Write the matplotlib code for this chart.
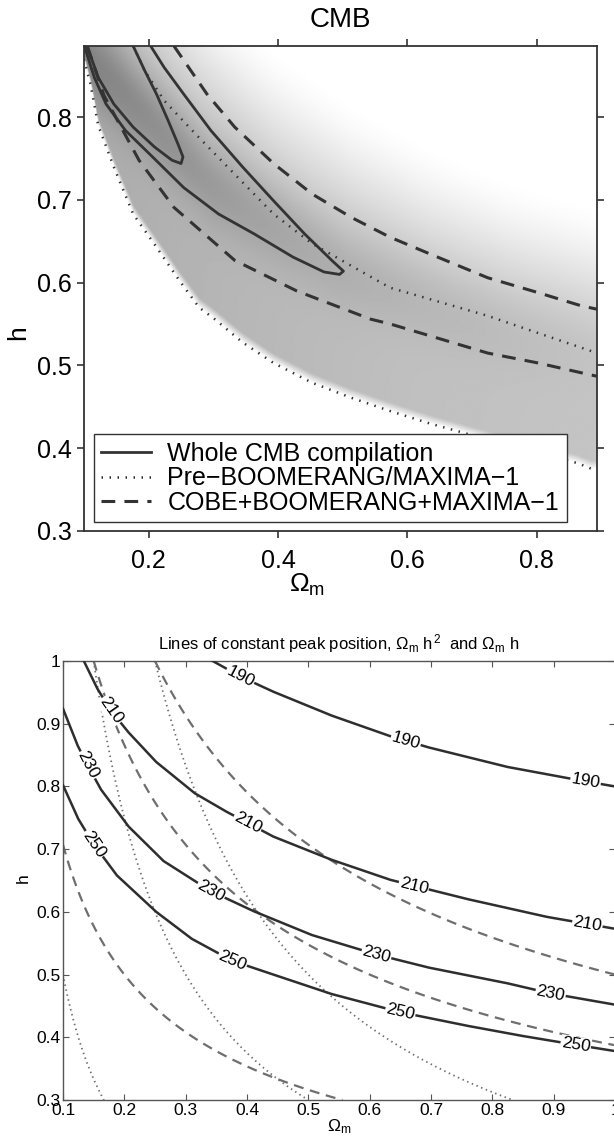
import numpy as np
import matplotlib.pyplot as plt

plt.rcParams['font.family'] = ['Liberation Sans', 'DejaVu Sans']
plt.rcParams['mathtext.fontset'] = 'custom'
plt.rcParams['mathtext.rm'] = 'Liberation Sans'
plt.rcParams['mathtext.it'] = 'Liberation Sans'

# ---------------- top panel data ----------------
# whole CMB compilation, outer and inner contour
outer_om = [0.203, 0.224, 0.254, 0.296, 0.345, 0.393, 0.441, 0.483, 0.501, 0.495,
            0.471, 0.423, 0.363, 0.308, 0.254, 0.206, 0.164, 0.134, 0.116, 0.105, 0.101]
outer_h = [0.886, 0.860, 0.828, 0.784, 0.740, 0.699, 0.659, 0.627, 0.614, 0.610,
           0.613, 0.631, 0.659, 0.683, 0.715, 0.752, 0.784, 0.816, 0.848, 0.875, 0.886]
inner_om = [0.176, 0.194, 0.212, 0.230, 0.245, 0.253, 0.250, 0.236, 0.209, 0.176, 0.146, 0.122, 0.107]
inner_h = [0.886, 0.856, 0.828, 0.796, 0.768, 0.752, 0.744, 0.748, 0.764, 0.788, 0.816, 0.848, 0.881]
# pre-BOOMERANG/MAXIMA-1
pre_up_om = [0.176, 0.194, 0.224, 0.272, 0.333, 0.393, 0.453, 0.573, 0.724, 0.814, 0.893]
pre_up_h = [0.886, 0.856, 0.820, 0.780, 0.731, 0.683, 0.647, 0.594, 0.560, 0.536, 0.515]
pre_lo_om = [0.100, 0.110, 0.122, 0.146, 0.176, 0.212, 0.248, 0.278, 0.302, 0.345,
             0.393, 0.453, 0.513, 0.573, 0.634, 0.750, 0.863, 0.885]
pre_lo_h = [0.870, 0.840, 0.790, 0.740, 0.683, 0.643, 0.602, 0.570, 0.556, 0.528,
            0.503, 0.479, 0.461, 0.445, 0.430, 0.405, 0.382, 0.375]
# COBE+BOOMERANG+MAXIMA-1
cbm_up_om = [0.239, 0.290, 0.333, 0.393, 0.453, 0.513, 0.573, 0.634, 0.724, 0.802, 0.869, 0.893]
cbm_up_h = [0.886, 0.828, 0.788, 0.744, 0.707, 0.679, 0.655, 0.635, 0.606, 0.588, 0.572, 0.568]
cbm_lo_om = [0.105, 0.131, 0.185, 0.239, 0.333, 0.429, 0.543, 0.574, 0.634, 0.724, 0.802, 0.881, 0.893]
cbm_lo_h = [0.886, 0.826, 0.748, 0.691, 0.627, 0.590, 0.556, 0.550, 0.536, 0.515, 0.503, 0.489, 0.487]
# grey likelihood band: upper fade edge and ridge
band_up_om = [0.10, 0.30, 0.393, 0.513, 0.634, 0.754, 0.893]
band_up_h = [1.10, 0.95, 0.886, 0.820, 0.768, 0.727, 0.695]
ridge_om = [0.10, 0.12, 0.20, 0.30, 0.40, 0.50, 0.70, 0.893]
ridge_h = [0.88, 0.86, 0.80, 0.72, 0.67, 0.62, 0.56, 0.52]

legend_labels = ['Whole CMB compilation', 'Pre\u2212BOOMERANG/MAXIMA\u22121',
                 'COBE+BOOMERANG+MAXIMA\u22121']

# ---------------- bottom panel data ----------------
peak_levels = [190, 210, 230, 250]
peak_om = [
    [0.344, 0.392, 0.443, 0.538, 0.634, 0.697, 0.825, 0.952, 1.0],
    [0.134, 0.156, 0.178, 0.207, 0.252, 0.315, 0.366, 0.443, 0.538, 0.634, 0.761, 0.889, 1.0],
    [0.100, 0.124, 0.140, 0.162, 0.207, 0.264, 0.341, 0.411, 0.506, 0.611, 0.697, 0.825, 0.895, 1.0],
    [0.100, 0.125, 0.150, 0.188, 0.252, 0.310, 0.376, 0.443, 0.538, 0.650, 0.761, 0.850, 0.936, 1.0],
]
peak_h = [
    [1.000, 0.974, 0.951, 0.913, 0.880, 0.862, 0.831, 0.808, 0.800],
    [1.000, 0.956, 0.921, 0.886, 0.839, 0.789, 0.760, 0.720, 0.683, 0.651, 0.620, 0.592, 0.573],
    [0.924, 0.865, 0.834, 0.795, 0.736, 0.681, 0.633, 0.601, 0.563, 0.532, 0.511, 0.486, 0.470, 0.452],
    [0.802, 0.748, 0.708, 0.658, 0.600, 0.557, 0.522, 0.500, 0.469, 0.440, 0.418, 0.402, 0.388, 0.378],
]
peak_label_om = [
    [0.389, 0.659, 0.952],
    [0.178, 0.401, 0.672, 0.955],
    [0.140, 0.341, 0.611, 0.895],
    [0.150, 0.376, 0.650, 0.936],
]
omh2_levels = [0.05, 0.15, 0.25]   # dashed
omh_levels = [0.05, 0.15, 0.25]    # dotted

fig = plt.figure(figsize=(6.14, 11.42), dpi=100)

# ================= top panel =================
ax1 = fig.add_axes([84 / 614, 1 - 531 / 1142, 513 / 614, 485 / 1142])
x0, x1, y0, y1 = 0.1, 0.893, 0.3, 0.886

og = np.linspace(x0, x1, 600)
hg = np.linspace(y0, y1, 600)
OM, HH = np.meshgrid(og, hg)
ylo = np.interp(OM, pre_lo_om, pre_lo_h)
yup = np.interp(OM, band_up_om, band_up_h)
t = (HH - ylo) / (yup - ylo)
edge = np.clip(t / 0.03, 0, 1)
fall = np.where(t < 0.35, 1.0, np.cos(np.clip((t - 0.35) / 0.65, 0, 1) * np.pi / 2) ** 1.6)
amp = np.interp(OM, [0.1, 0.3, 0.6, 0.893], [0.33, 0.29, 0.25, 0.23])
ridge = np.interp(OM, ridge_om, ridge_h)
core = 0.16 * np.exp(-((HH - ridge) / 0.05) ** 2) * np.interp(OM, [0.1, 0.5, 0.893], [1.0, 0.35, 0.05])
img = 1 - edge * (amp * fall + core)
ax1.imshow(img, extent=[x0, x1, y0, y1], origin='lower', cmap='gray', vmin=0, vmax=1,
           aspect='auto', interpolation='bilinear', zorder=0)

c_line = '#333333'
solid_kw = dict(color=c_line, lw=2.0)
dot_kw = dict(color=c_line, lw=1.8, linestyle=(0, (0.6, 2.6)))
dash_kw = dict(color=c_line, lw=2.2, linestyle=(0, (4.5, 3.0)))
l1, = ax1.plot(outer_om, outer_h, **solid_kw)
ax1.plot(inner_om, inner_h, **solid_kw)
l2, = ax1.plot(pre_up_om, pre_up_h, **dot_kw)
ax1.plot(pre_lo_om, pre_lo_h, **dot_kw)
l3, = ax1.plot(cbm_up_om, cbm_up_h, **dash_kw)
ax1.plot(cbm_lo_om, cbm_lo_h, **dash_kw)

ax1.set_xlim(x0, x1)
ax1.set_ylim(y0, y1)
ax1.set_xticks([0.2, 0.4, 0.6, 0.8])
ax1.set_yticks([0.3, 0.4, 0.5, 0.6, 0.7, 0.8])
ax1.tick_params(direction='out', top=True, right=True, length=5, width=1.2,
                labelsize=18, color='#333333')
ax1.tick_params(axis='x', pad=8)
ax1.tick_params(axis='y', pad=4)
for s in ax1.spines.values():
    s.set_linewidth(1.3)
    s.set_color('#333333')
ax1.set_title('CMB', fontsize=20, pad=14)
ax1.set_xlabel('$\\Omega_m$', fontsize=19)
ax1.xaxis.set_label_coords(0.435, -0.085)
ax1.set_ylabel('h', fontsize=19)
ax1.yaxis.set_label_coords(-0.105, 0.41)

leg = ax1.legend([l1, l2, l3], legend_labels, loc='lower left',
                 bbox_to_anchor=(0.019, 0.018), fontsize=18, frameon=True,
                 fancybox=False, framealpha=1, edgecolor='#333333',
                 handlelength=2.0, handletextpad=0.65, labelspacing=0.02,
                 borderpad=0.3, borderaxespad=0)
leg.get_frame().set_linewidth(1.0)

# ================= bottom panel =================
ax2 = fig.add_axes([63 / 614, 1 - 1100 / 1142, 552 / 614, 439 / 1142])
ax2.set_xlim(0.1, 1.0)
ax2.set_ylim(0.3, 1.0)

ob = np.linspace(0.1, 1.0, 500)
hb = np.linspace(0.3, 1.0, 500)
OB, HB = np.meshgrid(ob, hb)
ax2.contour(OB, HB, OB * HB ** 2, levels=omh2_levels, colors='#6e6e6e',
            linewidths=1.6, linestyles=[(0, (4.5, 3.0))])
ax2.contour(OB, HB, OB * HB, levels=omh_levels, colors='#6e6e6e',
            linewidths=1.3, linestyles=[(0, (0.8, 2.0))])

for lev, xs, ys, lx in zip(peak_levels, peak_om, peak_h, peak_label_om):
    ax2.plot(xs, ys, color='#2e2e2e', lw=1.8, zorder=3)
    for xl in lx:
        yl = np.interp(xl, xs, ys)
        p1 = ax2.transData.transform((xl - 0.01, np.interp(xl - 0.01, xs, ys)))
        p2 = ax2.transData.transform((xl + 0.01, np.interp(xl + 0.01, xs, ys)))
        ang = np.degrees(np.arctan2(p2[1] - p1[1], p2[0] - p1[0]))
        ax2.text(xl, yl, str(lev), rotation=ang, rotation_mode='anchor',
                 ha='center', va='center', fontsize=12.5, zorder=4,
                 bbox=dict(fc='white', ec='none', pad=0.6))

ax2.set_xticks(np.round(np.arange(0.1, 1.01, 0.1), 1))
ax2.set_xticklabels(['0.1', '0.2', '0.3', '0.4', '0.5', '0.6', '0.7', '0.8', '0.9', '1'])
ax2.set_yticks(np.round(np.arange(0.3, 1.01, 0.1), 1))
ax2.set_yticklabels(['0.3', '0.4', '0.5', '0.6', '0.7', '0.8', '0.9', '1'])
ax2.tick_params(direction='in', top=True, right=True, length=4, width=0.8,
                labelsize=12.5, color='#555555', pad=2)
for s in ax2.spines.values():
    s.set_linewidth(1.0)
    s.set_color('#555555')
ax2.set_title('Lines of constant peak position, $\\Omega_m\\ h^2$  and $\\Omega_m\\ h$',
              fontsize=12, pad=8)
ax2.set_xlabel('$\\Omega_m$', fontsize=12.5, labelpad=0)
ax2.set_ylabel('h', fontsize=12.5)
ax2.yaxis.set_label_coords(-0.058, 0.505)

fig.savefig('out.png', dpi=100)
